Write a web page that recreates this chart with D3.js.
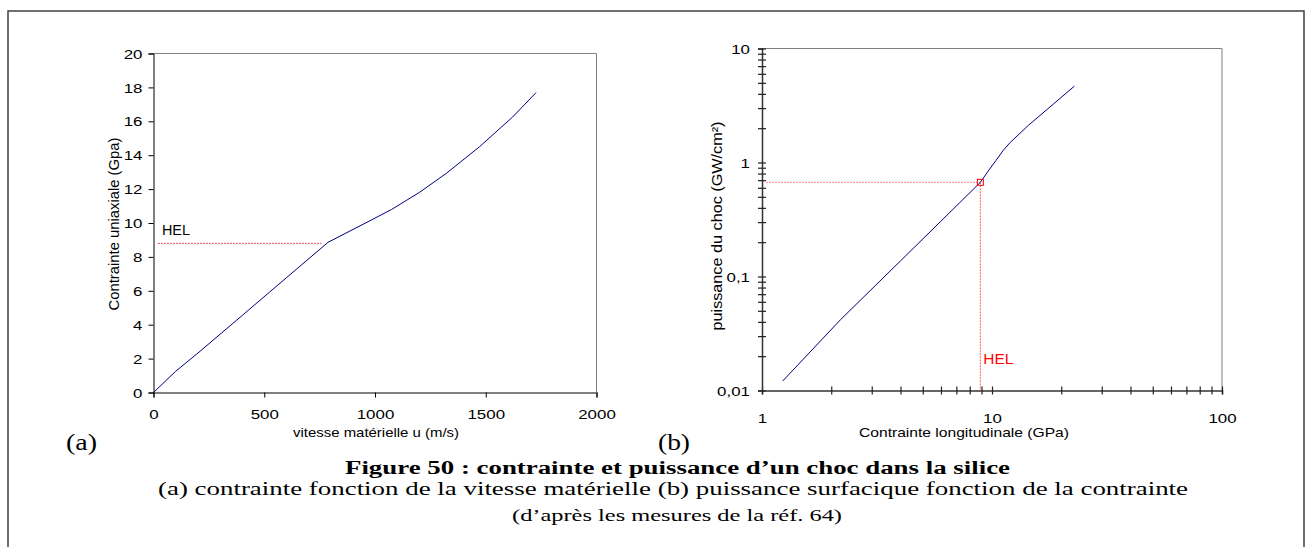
<!DOCTYPE html>
<html><head><meta charset="utf-8">
<script src="https://cdn.jsdelivr.net/npm/d3@7"></script>
<style>body{margin:0;background:#fff}svg{display:block}</style>
</head><body>
<svg id="c" width="1306" height="547"></svg>
<script>
// (a) contrainte vs vitesse matérielle
const uVals     = [0, 100, 210, 400, 600, 788, 950, 1075, 1200, 1321, 1471, 1621, 1727];
const sigmaVals = [0, 1.25, 2.43, 4.54, 6.77, 8.86, 9.95, 10.8, 11.8, 12.92, 14.49, 16.25, 17.69];
const aXTicks = [0, 500, 1000, 1500, 2000];
const aYTicks = [0, 2, 4, 6, 8, 10, 12, 14, 16, 18, 20];
const helA = 8.8, helAEnd = 758;
// (b) puissance vs contrainte (log-log)
const sVals = [1.23, 2.2, 4, 6, 8.9, 9.7, 10.4, 11.2, 12, 14.4, 18.6, 22.8];
const pVals = [0.0121, 0.042, 0.137, 0.306, 0.67, 0.86, 1.04, 1.28, 1.5, 2.12, 3.29, 4.67];
const bXMajor = [1, 10, 100];
const bYMajor = [0.01, 0.1, 1, 10];
const bYLabels = ["0,01", "0,1", "1", "10"];
const helB = {x: 8.9, y: 0.67};

const svg = d3.select("#c");
const sans = "'Liberation Sans', Arial, sans-serif";
const serif = "'Liberation Serif', 'Times New Roman', serif";
const SX = 1.3; // horizontal stretch of the original picture's lettering

function styleTicks(g, pos, off){
  g.selectAll(".tick text").each(function(){
    const t = d3.select(this);
    t.attr("font-family",sans).attr("font-size",13).attr("fill","#000");
    if(pos==="left"){ t.attr("x",0).attr("transform",`translate(${-off},0) scale(${SX},1)`); }
    else { t.attr("y",0).attr("dy",null).attr("transform",`translate(0,${off}) scale(${SX},1)`); }
  });
}

// outer frame
svg.append("path").attr("d","M8,548 V11 H1304 V548").attr("fill","none").attr("stroke","#404040").attr("stroke-width",1.5);

// ---------- chart (a)
const ax = d3.scaleLinear().domain([0,2000]).range([153.5,596.5]);
const ay = d3.scaleLinear().domain([0,20]).range([392.5,53.5]);
const ga = svg.append("g");
ga.append("path").attr("d",`M${ax(0)},${ay(20)} H${ax(2000)} V${ay(0)}`).attr("fill","none").attr("stroke","#808080");
const axB = ga.append("g").attr("transform",`translate(0,${ay(0)})`)
  .call(d3.axisBottom(ax).tickValues(aXTicks).tickSize(5).tickFormat(d3.format("d")));
axB.select(".domain").attr("stroke","#555").attr("stroke-width",1.5);
styleTicks(axB,"bottom",26);
const axL = ga.append("g").attr("transform",`translate(${ax(0)},0)`)
  .call(d3.axisLeft(ay).tickValues(aYTicks).tickSize(5).tickFormat(d3.format("d")));
axL.select(".domain").attr("stroke","#000");
styleTicks(axL,"left",11);
axL.selectAll(".tick text").attr("dy","0.36em");
ga.append("line").attr("x1",ax(20)).attr("x2",ax(helAEnd)).attr("y1",ay(helA)).attr("y2",ay(helA))
  .attr("stroke","#e85050").attr("stroke-dasharray","2,1").attr("stroke-width",1);
ga.append("text").attr("x",ax(38)).attr("y",ay(helA)-8).text("HEL").attr("font-family",sans).attr("font-size",14)
  .attr("textLength",28).attr("lengthAdjust","spacingAndGlyphs");
ga.append("path").datum(uVals.map((u,i)=>[u,sigmaVals[i]]))
  .attr("d",d3.line().x(d=>ax(d[0])).y(d=>ay(d[1]))).attr("fill","none").attr("stroke","#000080").attr("stroke-width",1);
ga.append("text").attr("x",376).attr("y",437).attr("text-anchor","middle").attr("font-family",sans).attr("font-size",13.5)
  .attr("textLength",166).attr("lengthAdjust","spacingAndGlyphs").text("vitesse matérielle u (m/s)");
ga.append("text").attr("transform","translate(119,224) rotate(-90)").attr("text-anchor","middle").attr("font-family",sans).attr("font-size",14.5)
  .attr("textLength",173).attr("lengthAdjust","spacingAndGlyphs").text("Contrainte uniaxiale (Gpa)");

// ---------- chart (b)
const bx = d3.scaleLog().domain([1,100]).range([762,1222]);
const by = d3.scaleLog().domain([0.01,10]).range([390.5,48.5]);
const gb = svg.append("g");
gb.append("path").attr("d",`M${bx(1)},${by(10)} H${bx(100)} V${by(0.01)}`).attr("fill","none").attr("stroke","#808080");
const minorX = [], minorY = [];
[1,10].forEach(d=>{for(let k=2;k<=9;k++) minorX.push(d*k);});
[0.01,0.1,1].forEach(d=>{for(let k=2;k<=9;k++) minorY.push(d*k);});
const bxAll = bXMajor.concat(minorX), byAll = bYMajor.concat(minorY);
const bxAxis = gb.append("g").attr("transform",`translate(0,${by(0.01)})`)
  .call(d3.axisBottom(bx).tickValues(bxAll).tickSize(4).tickFormat(d=>bXMajor.includes(d)?d3.format("d")(d):""));
bxAxis.selectAll(".tick line").attr("y1",-4);
const byAxis = gb.append("g").attr("transform",`translate(${bx(1)},0)`)
  .call(d3.axisLeft(by).tickValues(byAll).tickSize(4).tickFormat(d=>{const i=bYMajor.indexOf(d);return i>=0?bYLabels[i]:"";}));
byAxis.selectAll(".tick line").attr("x1",4);
[bxAxis, byAxis].forEach(g=>{
  g.select(".domain").attr("stroke","#333").attr("stroke-width",1.5);
  g.selectAll(".tick line").attr("stroke","#222").attr("stroke-width",1.2);
});
styleTicks(bxAxis,"bottom",32);
styleTicks(byAxis,"left",12);
byAxis.selectAll(".tick text").attr("dy","0.36em");
gb.append("line").attr("x1",bx(1)+4).attr("x2",bx(helB.x)).attr("y1",by(helB.y)).attr("y2",by(helB.y))
  .attr("stroke","#ff8080").attr("stroke-dasharray","2,1");
gb.append("line").attr("x1",bx(helB.x)).attr("x2",bx(helB.x)).attr("y1",by(helB.y)).attr("y2",by(0.01))
  .attr("stroke","#ff6060").attr("stroke-dasharray","2,1");
gb.append("path").datum(sVals.map((s,i)=>[s,pVals[i]]))
  .attr("d",d3.line().x(d=>bx(d[0])).y(d=>by(d[1]))).attr("fill","none").attr("stroke","#000080").attr("stroke-width",1);
gb.append("rect").attr("x",bx(helB.x)-3).attr("y",by(helB.y)-3).attr("width",6).attr("height",6)
  .attr("fill","none").attr("stroke","#ff0000").attr("stroke-width",1);
gb.append("text").attr("x",bx(helB.x)+3).attr("y",364).attr("fill","#ff0000").attr("font-family",sans).attr("font-size",14)
  .attr("textLength",30).attr("lengthAdjust","spacingAndGlyphs").text("HEL");
gb.append("text").attr("x",964).attr("y",437).attr("text-anchor","middle").attr("font-family",sans).attr("font-size",13.5)
  .attr("textLength",210).attr("lengthAdjust","spacingAndGlyphs").text("Contrainte longitudinale (GPa)");
gb.append("text").attr("transform","translate(722,226) rotate(-90)").attr("text-anchor","middle").attr("font-family",sans).attr("font-size",14.5)
  .attr("textLength",209).attr("lengthAdjust","spacingAndGlyphs").text("puissance du choc (GW/cm²)");

// ---------- labels & caption
svg.append("text").attr("x",66).attr("y",450).attr("font-family",serif).attr("font-size",24)
  .attr("textLength",31).attr("lengthAdjust","spacingAndGlyphs").text("(a)");
svg.append("text").attr("x",658).attr("y",450).attr("font-family",serif).attr("font-size",24)
  .attr("textLength",32).attr("lengthAdjust","spacingAndGlyphs").text("(b)");
svg.append("text").attr("x",345).attr("y",474).attr("font-family",serif).attr("font-size",18).attr("font-weight","bold")
  .attr("textLength",665).attr("lengthAdjust","spacingAndGlyphs")
  .text("Figure 50 : contrainte et puissance d’un choc dans la silice");
svg.append("text").attr("x",158).attr("y",495).attr("font-family",serif).attr("font-size",18)
  .attr("textLength",1030).attr("lengthAdjust","spacingAndGlyphs")
  .text("(a) contrainte fonction de la vitesse matérielle (b) puissance surfacique fonction de la contrainte");
svg.append("text").attr("x",512).attr("y",521).attr("font-family",serif).attr("font-size",16)
  .attr("textLength",330).attr("lengthAdjust","spacingAndGlyphs")
  .text("(d’après les mesures de la réf. 64)");
</script>
</body></html>
